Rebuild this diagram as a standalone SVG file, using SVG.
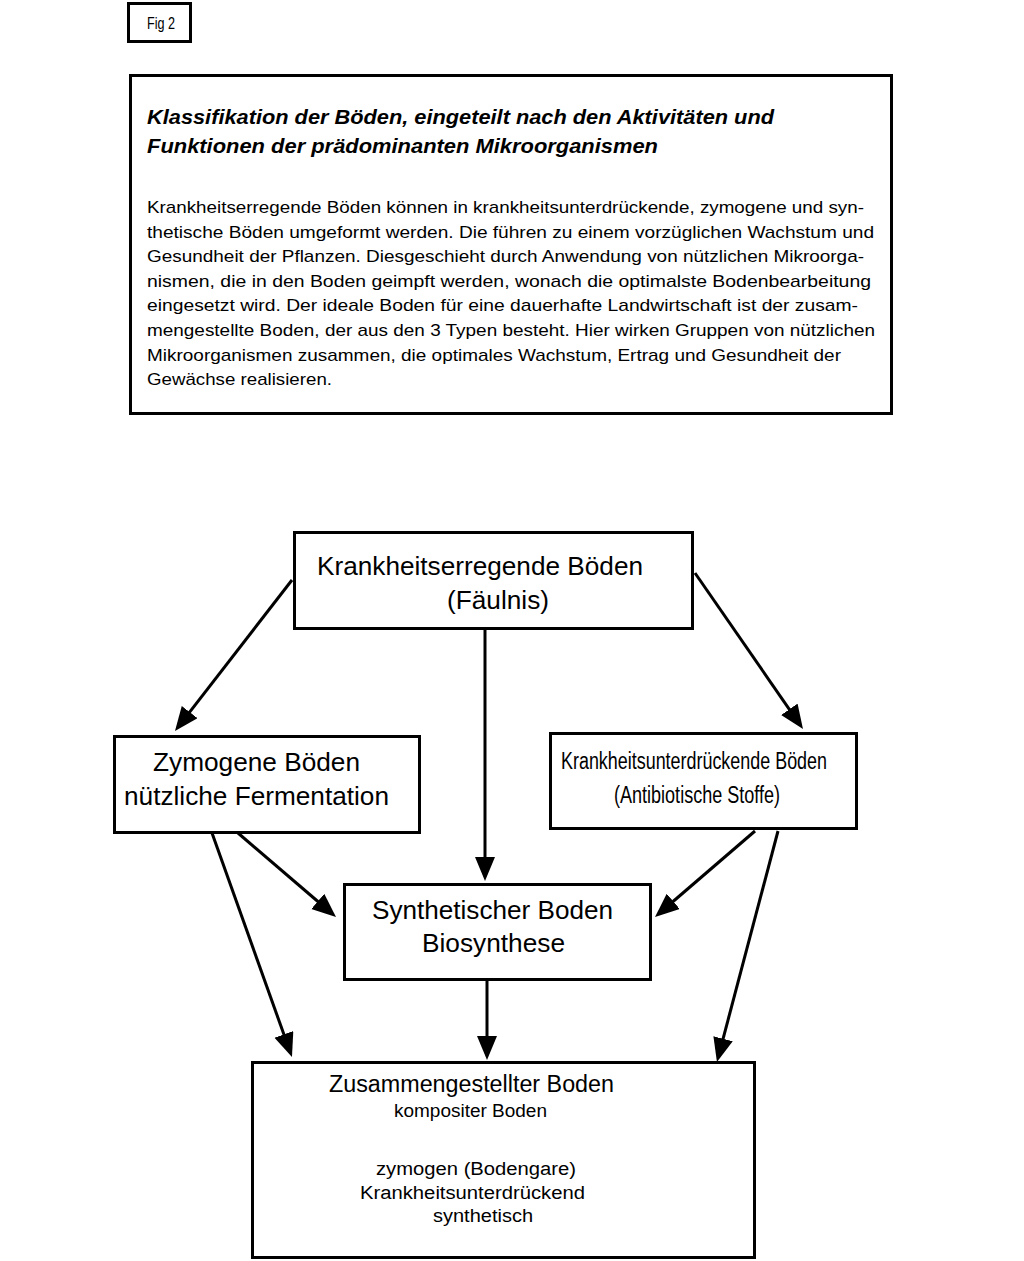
<svg xmlns="http://www.w3.org/2000/svg" width="1024" height="1261" viewBox="0 0 1024 1261">
<style>
.box{fill:#fff;stroke:#000;stroke-width:3}
text{font-family:"Liberation Sans",Arial,sans-serif;fill:#000}
.title{font-size:21px;font-weight:bold;font-style:italic}
.body{font-size:17px}
.n{font-size:26px}
.c{font-size:23px}
.s{font-size:18px}
.conn line{stroke:#000;stroke-width:3;marker-end:url(#ah)}
</style>
<defs>
<marker id="ah" markerUnits="userSpaceOnUse" markerWidth="26" markerHeight="22" refX="14" refY="10" orient="auto" viewBox="0 0 26 22">
<path d="M0,0 L24,10 L0,20 z" fill="#000"/>
</marker>
</defs>
<rect width="1024" height="1261" fill="#fff"/>
<g id="fig">
<rect class="box" x="128.5" y="3.5" width="62" height="38"/>
<text x="147" y="29" font-size="17" textLength="28" lengthAdjust="spacingAndGlyphs">Fig 2</text>
</g>
<g id="description">
<rect class="box" x="130.5" y="75.5" width="761" height="338"/>
<text class="title" x="147" y="124" textLength="627" lengthAdjust="spacingAndGlyphs">Klassifikation der Böden, eingeteilt nach den Aktivitäten und</text>
<text class="title" x="147" y="152.5" textLength="511" lengthAdjust="spacingAndGlyphs">Funktionen der prädominanten Mikroorganismen</text>
<text class="body" x="147" y="213" textLength="717" lengthAdjust="spacingAndGlyphs">Krankheitserregende Böden können in krankheitsunterdrückende, zymogene und syn-</text>
<text class="body" x="147" y="237.6" textLength="727" lengthAdjust="spacingAndGlyphs">thetische Böden umgeformt werden. Die führen zu einem vorzüglichen Wachstum und</text>
<text class="body" x="147" y="262.2" textLength="717" lengthAdjust="spacingAndGlyphs">Gesundheit der Pflanzen. Diesgeschieht durch Anwendung von nützlichen Mikroorga-</text>
<text class="body" x="147" y="286.8" textLength="724" lengthAdjust="spacingAndGlyphs">nismen, die in den Boden geimpft werden, wonach die optimalste Bodenbearbeitung</text>
<text class="body" x="147" y="311.4" textLength="711" lengthAdjust="spacingAndGlyphs">eingesetzt wird. Der ideale Boden für eine dauerhafte Landwirtschaft ist der zusam-</text>
<text class="body" x="147" y="336" textLength="728" lengthAdjust="spacingAndGlyphs">mengestellte Boden, der aus den 3 Typen besteht. Hier wirken Gruppen von nützlichen</text>
<text class="body" x="147" y="360.6" textLength="694" lengthAdjust="spacingAndGlyphs">Mikroorganismen zusammen, die optimales Wachstum, Ertrag und Gesundheit der</text>
<text class="body" x="147" y="385.2" textLength="185" lengthAdjust="spacingAndGlyphs">Gewächse realisieren.</text>
</g>
<g class="conn" id="connectors">
<line x1="292" y1="580" x2="181.1" y2="723.1"/>
<line x1="485" y1="629" x2="485" y2="871"/>
<line x1="695" y1="573" x2="797.3" y2="720.8"/>
<line x1="212" y1="833" x2="288.6" y2="1047.6"/>
<line x1="238" y1="833" x2="328.4" y2="910.5"/>
<line x1="755" y1="831" x2="662.6" y2="910.5"/>
<line x1="778" y1="831" x2="719.5" y2="1052.3"/>
<line x1="487" y1="980" x2="487" y2="1050"/>
</g>
<g id="krankheitserregend">
<rect class="box" x="294.5" y="532.5" width="398" height="96"/>
<text class="n" x="317" y="575" textLength="326" lengthAdjust="spacingAndGlyphs">Krankheitserregende Böden</text>
<text class="n" x="447" y="609" textLength="102" lengthAdjust="spacingAndGlyphs">(Fäulnis)</text>
</g>
<g id="zymogen">
<rect class="box" x="114.5" y="736.5" width="305" height="96"/>
<text class="n" x="153" y="771" textLength="207" lengthAdjust="spacingAndGlyphs">Zymogene Böden</text>
<text class="n" x="124" y="805" textLength="265" lengthAdjust="spacingAndGlyphs">nützliche Fermentation</text>
</g>
<g id="unterdrueckend">
<rect class="box" x="550.5" y="733.5" width="306" height="95"/>
<text class="c" x="561" y="769" textLength="266" lengthAdjust="spacingAndGlyphs">Krankheitsunterdrückende Böden</text>
<text class="c" x="614" y="803" textLength="166" lengthAdjust="spacingAndGlyphs">(Antibiotische Stoffe)</text>
</g>
<g id="synthetisch">
<rect class="box" x="344.5" y="884.5" width="306" height="95"/>
<text class="n" x="372" y="919" textLength="241" lengthAdjust="spacingAndGlyphs">Synthetischer Boden</text>
<text class="n" x="422" y="952" textLength="143" lengthAdjust="spacingAndGlyphs">Biosynthese</text>
</g>
<g id="zusammengestellt">
<rect class="box" x="252.5" y="1062.5" width="502" height="195"/>
<text class="c" x="329" y="1092" textLength="285" lengthAdjust="spacingAndGlyphs">Zusammengestellter Boden</text>
<text class="s" x="394" y="1117" textLength="153" lengthAdjust="spacingAndGlyphs">kompositer Boden</text>
<text class="s" x="376" y="1175" textLength="200" lengthAdjust="spacingAndGlyphs">zymogen (Bodengare)</text>
<text class="s" x="360" y="1199" textLength="225" lengthAdjust="spacingAndGlyphs">Krankheitsunterdrückend</text>
<text class="s" x="433" y="1222" textLength="100" lengthAdjust="spacingAndGlyphs">synthetisch</text>
</g>
</svg>
